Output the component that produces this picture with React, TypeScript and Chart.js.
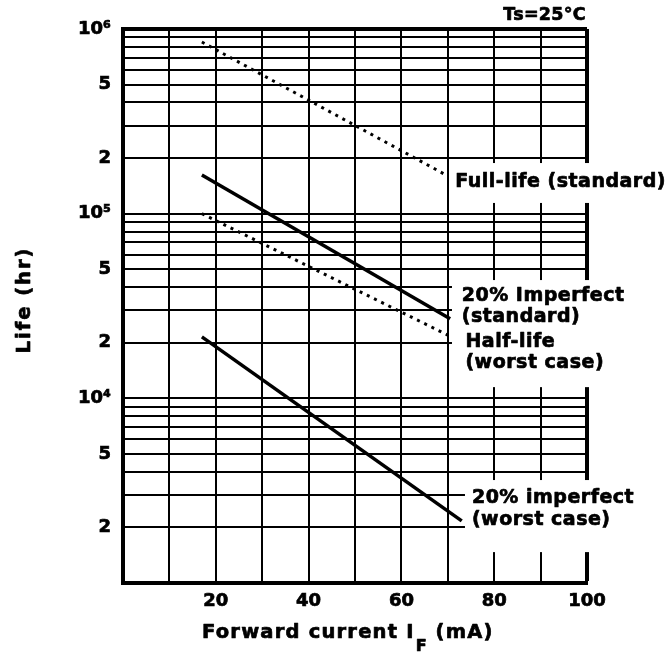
import React, { useEffect, useRef } from "react";
import { Chart, registerables } from "chart.js";

Chart.register(...registerables);

// ---- Data (forward current in mA, life in hours) ----
const fullLifeStdX = [17, 70];
const fullLifeStdY = [850000, 160000];

const imperfectStdX = [17, 70.5];
const imperfectStdY = [162000, 27000];

const halfLifeWorstX = [17, 70];
const halfLifeWorstY = [100000, 22000];

const imperfectWorstX = [17, 73];
const imperfectWorstY = [21500, 2170];

// ---- Axes ----
const xGridValues = [0, 10, 20, 30, 40, 50, 60, 70, 80, 90, 100];
const xTickLabels = [20, 40, 60, 80, 100];

const yGridValues = [
  1000, 2000, 3000, 4000, 5000, 6000, 7000, 8000, 9000,
  10000, 20000, 30000, 40000, 50000, 60000, 70000, 80000, 90000,
  100000, 200000, 300000, 400000, 500000, 600000, 700000, 800000, 900000,
  1000000,
];
const yTickLabels: Record<number, string> = {
  2000: "2",
  5000: "5",
  10000: "10\u2074",
  20000: "2",
  50000: "5",
  100000: "10\u2075",
  200000: "2",
  500000: "5",
  1000000: "10\u2076",
};

// ---- Curve labels (anchored in data units) ----
const curveLabels = [
  { lines: ["Full-life (standard)"], x: 71.6, ys: [148400] },
  { lines: ["20% Imperfect", "(standard)"], x: 73.0, ys: [35800, 27600] },
  { lines: ["Half-life", "(worst case)"], x: 73.8, ys: [20200, 15500] },
  { lines: ["20% imperfect", "(worst case)"], x: 75.2, ys: [2890, 2190] },
];
const labelBackgrounds = [
  { fromX: 70.5, top: 188000, bottom: 114300 },
  { fromX: 70.9, top: 43700, bottom: 11500 },
  { fromX: 73.7, top: 3610, bottom: 1470 },
];

const FONT = '"DejaVu Sans", sans-serif';

function boldText(ctx: any, t: string, x: number, y: number, w = 0.7) {
  ctx.fillText(t, x, y);
  ctx.lineWidth = w;
  ctx.strokeStyle = "#000";
  ctx.lineJoin = "round";
  ctx.strokeText(t, x, y);
}

const overlayPlugin = {
  id: "overlay",
  beforeDraw(chart: any) {
    const ctx = chart.ctx;
    ctx.save();
    ctx.fillStyle = "#fff";
    ctx.fillRect(0, 0, chart.width, chart.height);
    ctx.restore();
  },
  beforeDatasetsDraw(chart: any) {
    const { ctx } = chart;
    const xs = chart.scales.x;
    const ys = chart.scales.y;
    ctx.save();
    ctx.fillStyle = "#fff";
    for (const b of labelBackgrounds) {
      const left = xs.getPixelForValue(b.fromX);
      const top = ys.getPixelForValue(b.top);
      const bottom = ys.getPixelForValue(b.bottom);
      ctx.fillRect(left, top, chart.width - left, bottom - top);
    }
    ctx.restore();
  },
  afterDraw(chart: any) {
    const { ctx, chartArea } = chart;
    const xs = chart.scales.x;
    const ys = chart.scales.y;
    ctx.save();
    ctx.fillStyle = "#000";

    // curve labels
    ctx.font = `bold 19px ${FONT}`;
    (ctx as any).letterSpacing = "0.5px";
    ctx.textAlign = "left";
    ctx.textBaseline = "middle";
    for (const l of curveLabels) {
      const px = xs.getPixelForValue(l.x);
      l.lines.forEach((t, i) => {
        boldText(ctx, t, px, ys.getPixelForValue(l.ys[i]));
      });
    }

    // Ts label
    ctx.font = `bold 17.5px ${FONT}`;
    (ctx as any).letterSpacing = "0.3px";
    ctx.textAlign = "right";
    ctx.textBaseline = "alphabetic";
    boldText(ctx, "Ts=25\u00B0C", chartArea.right - 1, 20);

    // x title with subscript
    ctx.textAlign = "left";
    ctx.font = `bold 19.5px ${FONT}`;
    (ctx as any).letterSpacing = "1.2px";
    let cx = chartArea.left + 79;
    const main = "Forward current I";
    boldText(ctx, main, cx, 638);
    cx += ctx.measureText(main).width + 1;
    ctx.font = `bold 16px ${FONT}`;
    (ctx as any).letterSpacing = "0px";
    boldText(ctx, "F", cx, 651);
    cx += ctx.measureText("F").width + 9;
    ctx.font = `bold 19.5px ${FONT}`;
    (ctx as any).letterSpacing = "1.2px";
    boldText(ctx, "(mA)", cx, 638);

    // y title
    ctx.save();
    ctx.translate(25, 300);
    ctx.rotate(-Math.PI / 2);
    ctx.textAlign = "center";
    ctx.textBaseline = "middle";
    ctx.font = `bold 19.5px ${FONT}`;
    (ctx as any).letterSpacing = "2px";
    boldText(ctx, "Life (hr)", 0, 0);
    ctx.restore();

    ctx.restore();
  },
};

function pts(xs: number[], ys: number[]) {
  return xs.map((x, i) => ({ x, y: ys[i] }));
}

export default function App() {
  const ref = useRef<HTMLCanvasElement | null>(null);

  useEffect(() => {
    if (!ref.current) return;
    const lineBase = {
      borderColor: "#000",
      backgroundColor: "#000",
      pointRadius: 0,
      fill: false,
      tension: 0,
    };
    const tickFont = { family: FONT, weight: "bold", size: 18 };
    const chart = new Chart(ref.current, {
      type: "line",
      data: {
        datasets: [
          { ...lineBase, label: "Full-life (standard)", data: pts(fullLifeStdX, fullLifeStdY), borderWidth: 3, borderDash: [3, 5] },
          { ...lineBase, label: "20% Imperfect (standard)", data: pts(imperfectStdX, imperfectStdY), borderWidth: 3.5 },
          { ...lineBase, label: "Half-life (worst case)", data: pts(halfLifeWorstX, halfLifeWorstY), borderWidth: 3, borderDash: [3, 5] },
          { ...lineBase, label: "20% imperfect (worst case)", data: pts(imperfectWorstX, imperfectWorstY), borderWidth: 3.5 },
        ],
      },
      options: {
        animation: false,
        responsive: false,
        devicePixelRatio: 1,
        layout: { padding: { left: 0, top: 29, right: 84, bottom: 0 } },
        plugins: { legend: { display: false }, tooltip: { enabled: false } },
        scales: {
          x: {
            type: "linear",
            min: 0,
            max: 100,
            afterFit: (s: any) => {
              s.height = 72;
            },
            afterBuildTicks: (s: any) => {
              s.ticks = xGridValues.map((v) => ({ value: v }));
            },
            ticks: {
              autoSkip: false,
              maxRotation: 0,
              padding: 8,
              color: "#000",
              textStrokeColor: "#000",
              textStrokeWidth: 0.7,
              font: tickFont,
              callback: (v: any) => (xTickLabels.includes(Number(v)) ? String(v) : ""),
            },
            grid: {
              color: "#000",
              drawTicks: false,
              lineWidth: (c: any) => (c.tick && c.tick.value === 100 ? 4 : 2),
            },
            border: { color: "#000", width: 4 },
          },
          y: {
            type: "logarithmic",
            min: 1000,
            max: 1000000,
            afterFit: (s: any) => {
              s.width = 123;
            },
            afterBuildTicks: (s: any) => {
              s.ticks = yGridValues.map((v) => ({ value: v }));
            },
            ticks: {
              autoSkip: false,
              padding: 12,
              color: "#000",
              textStrokeColor: "#000",
              textStrokeWidth: 0.7,
              font: tickFont,
              callback: (v: any) => yTickLabels[Number(v)] ?? "",
            },
            grid: {
              color: "#000",
              drawTicks: false,
              lineWidth: (c: any) => (c.tick && c.tick.value === 1000000 ? 4 : 2),
            },
            border: { color: "#000", width: 4 },
          },
        },
      } as any,
      plugins: [overlayPlugin],
    });
    return () => chart.destroy();
  }, []);

  return (
    <div style={{ position: "fixed", left: 0, top: 0, width: 671, height: 655, background: "#fff" }}>
      <canvas ref={ref} width={671} height={655} />
    </div>
  );
}
